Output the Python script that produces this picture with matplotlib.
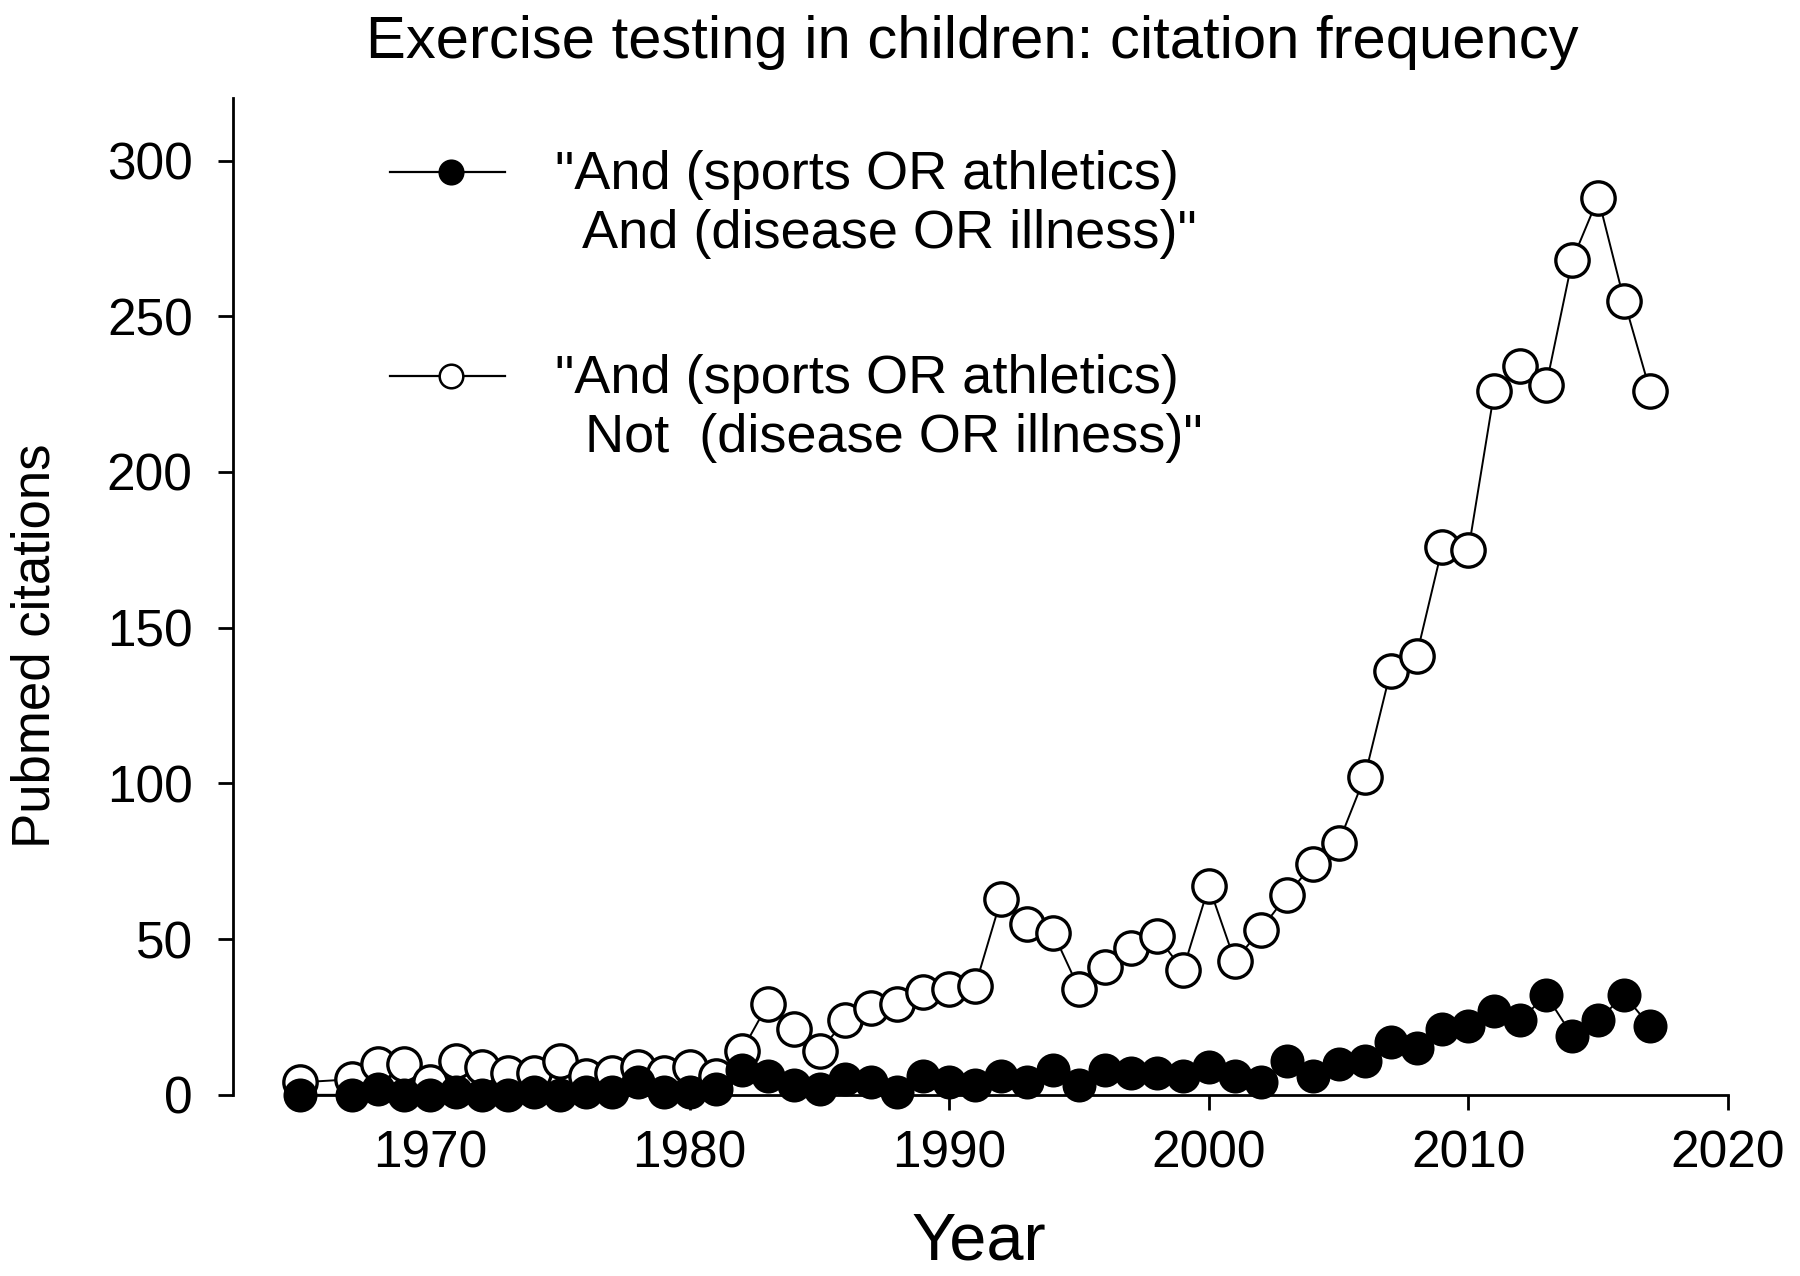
import matplotlib
matplotlib.use("Agg")
import matplotlib.pyplot as plt
from matplotlib.lines import Line2D

plt.rcParams['font.family'] = ['Liberation Sans', 'DejaVu Sans']

years = [1965, 1967, 1968, 1969, 1970, 1971, 1972, 1973, 1974, 1975, 1976, 1977,
         1978, 1979, 1980, 1981, 1982, 1983, 1984, 1985, 1986, 1987, 1988, 1989,
         1990, 1991, 1992, 1993, 1994, 1995, 1996, 1997, 1998, 1999, 2000, 2001,
         2002, 2003, 2004, 2005, 2006, 2007, 2008, 2009, 2010, 2011, 2012, 2013,
         2014, 2015, 2016, 2017]

with_disease = [0, 0, 2, 0, 0, 1, 0, 0, 1, 0, 1, 1,
                4, 1, 1, 2, 8, 6, 3, 2, 5, 4, 1, 6,
                4, 3, 6, 4, 8, 3, 8, 7, 7, 6, 9, 6,
                4, 11, 6, 10, 11, 17, 15, 21, 22, 27, 24, 32,
                19, 24, 32, 22]

without_disease = [4, 5, 10, 10, 4, 11, 9, 7, 7, 11, 6, 7,
                   9, 7, 9, 6, 14, 29, 21, 14, 24, 28, 29, 33,
                   34, 35, 63, 55, 52, 34, 41, 47, 51, 40, 67, 43,
                   53, 64, 74, 81, 102, 136, 141, 176, 175, 226, 234, 228,
                   268, 288, 255, 226]

x_ticks = [1970, 1980, 1990, 2000, 2010, 2020]
y_ticks = [0, 50, 100, 150, 200, 250, 300]

label_1 = '"And (sports OR athletics)\n  And (disease OR illness)"'
label_2 = '"And (sports OR athletics)\n  Not  (disease OR illness)"'

fig = plt.figure(figsize=(18, 12.76), dpi=100)
ax = fig.add_axes([0.1294, 0.142, 0.96 - 0.1294, 0.923 - 0.142])

ax.plot(years, without_disease, color='black', lw=1.4, marker='o', ms=24,
        mfc='white', mec='black', mew=2.4, clip_on=False, zorder=3)
ax.plot(years, with_disease, color='black', lw=1.4, marker='o', ms=23,
        mfc='black', mec='black', mew=1.5, clip_on=False, zorder=4)

ax.set_xlim(1962.4, 2020)
ax.set_ylim(0, 320)
ax.set_xticks(x_ticks)
ax.set_yticks(y_ticks)
ax.spines['top'].set_visible(False)
ax.spines['right'].set_visible(False)
ax.spines['bottom'].set_bounds(1965, 2020)
for s in ('left', 'bottom'):
    ax.spines[s].set_linewidth(2)
ax.tick_params(axis='both', direction='out', length=11, width=2, labelsize=37)
ax.tick_params(axis='y', pad=18)
ax.tick_params(axis='x', pad=14)

fig.text(0.54, 0.967, 'Exercise testing in children: citation frequency',
         ha='center', va='center', fontsize=43)
fig.text(0.02, 0.494, 'Pubmed citations', rotation=90, ha='center',
         va='center', fontsize=38)
fig.text(0.544, 0.026, 'Year', ha='center', va='center', fontsize=48)

# legend drawn manually in figure pixel coordinates
W, H = 1800, 1276
def fx(px):
    return px / W
def fy(py):
    return 1 - py / H

for ly, mfc, lab in [(172, 'black', label_1), (376, 'white', label_2)]:
    fig.add_artist(Line2D([fx(390), fx(505)], [fy(ly), fy(ly)], color='black', lw=1.6,
                          transform=fig.transFigure))
    fig.add_artist(Line2D([fx(451)], [fy(ly)], marker='o', ms=17, mfc=mfc,
                          mec='black', mew=1.8, transform=fig.transFigure))
    fig.text(fx(555), fy(ly - 22), lab, ha='left', va='top', fontsize=39,
             linespacing=1.22)

fig.savefig('out.png', dpi=100)
